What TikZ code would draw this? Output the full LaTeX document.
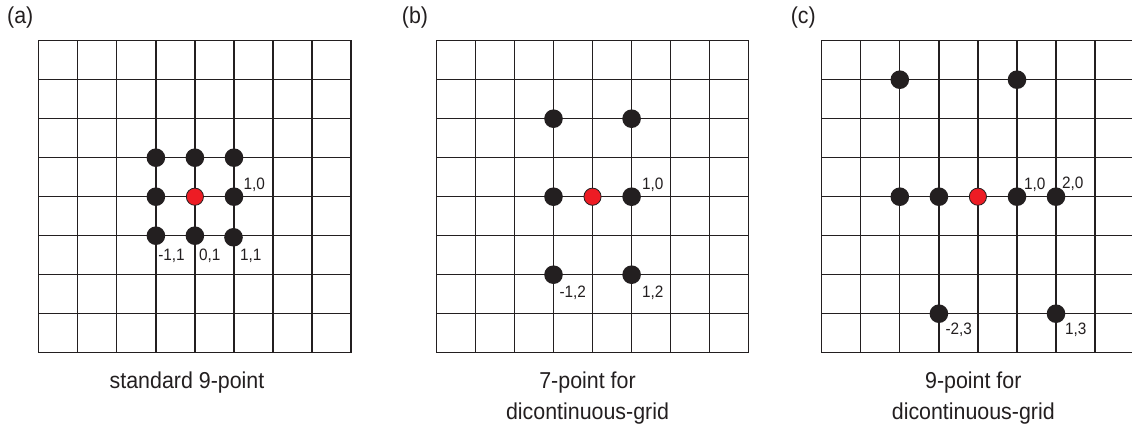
\documentclass[tikz,border=0pt]{standalone}
\usepackage{fontspec}
\setmainfont{Liberation Sans}[FakeStretch=0.93]
\definecolor{ink}{HTML}{231F20}
\definecolor{dotred}{HTML}{ED1C24}
\begin{document}
\begin{tikzpicture}[x=1pt,y=-1pt,
  gridline/.style={line width=1.3pt, draw=ink},
  bdot/.style={circle, fill=ink, inner sep=0pt, minimum size=18.6pt},
  rdot/.style={circle, fill=dotred, draw=ink, line width=0.8pt, inner sep=0pt, minimum size=17.2pt},
  lbl/.style={font=\fontsize{16.5}{18}\selectfont, text=ink, anchor=base, inner sep=0pt},
  panel/.style={font=\fontsize{23}{28}\selectfont, text=ink, anchor=base, inner sep=0pt},
  caption/.style={font=\fontsize{23}{28}\selectfont, text=ink, anchor=base, inner sep=0pt}]
\useasboundingbox (0,0) rectangle (1132,430);
\fill[white] (0,0) rectangle (1132,430);

% ---------- grid (a)
\foreach \i in {1,...,7} {
  \draw[gridline] ({38.7+\i*39.05},40.7) -- ({38.7+\i*39.05},352.7);
  \draw[gridline] (38.7,{40.7+\i*39}) -- (351.1,{40.7+\i*39});
}
\draw[gridline] (38.7,40.7) rectangle (351.1,352.7);

% ---------- grid (b)
\foreach \i in {1,...,7} {
  \draw[gridline] ({436.3+\i*39.05},40.7) -- ({436.3+\i*39.05},352.7);
  \draw[gridline] (436.3,{40.7+\i*39}) -- (748.7,{40.7+\i*39});
}
\draw[gridline] (436.3,40.7) rectangle (748.7,352.7);

% ---------- grid (c) (cut at right edge)
\foreach \i in {1,...,7} {
  \draw[gridline] ({821.7+\i*39.05},40.7) -- ({821.7+\i*39.05},352.7);
  \draw[gridline] (821.7,{40.7+\i*39}) -- (1132,{40.7+\i*39});
}
\draw[gridline] (1132,40.7) -- (821.7,40.7) -- (821.7,352.7) -- (1132,352.7);

% ---------- panel labels
\node[panel] (pa) at (20.3,24) {(a)};
\node[panel] (pb) at (415,24) {(b)};
\node[panel] (pc) at (803.3,24) {(c)};

% ---------- stencil (a)
\node[bdot] (a1) at (155.9,157.7) {};
\node[bdot] (a2) at (194.9,157.7) {};
\node[bdot] (a3) at (234.0,157.7) {};
\node[bdot] (a4) at (155.9,196.7) {};
\node[rdot] (a0) at (194.9,196.7) {};
\node[bdot] (a5) at (234.0,196.7) {};
\node[bdot] (a6) at (155.9,235.7) {};
\node[bdot] (a7) at (194.9,235.7) {};
\node[bdot] (a8) at (233.5,237.3) {};
\node[lbl] (la10) at (254.3,190) {1,0};
\node[lbl] (lam11) at (171.5,261) {-1,1};
\node[lbl] (la01) at (209.7,261) {0,1};
\node[lbl] (la11) at (250.8,261) {1,1};
\node[caption] (capa) at (187,388) {standard 9-point};

% ---------- stencil (b)
\node[bdot] (b1) at (553.5,118.7) {};
\node[bdot] (b2) at (631.6,118.7) {};
\node[bdot] (b3) at (553.5,196.7) {};
\node[rdot] (b0) at (592.5,196.7) {};
\node[bdot] (b4) at (631.6,196.7) {};
\node[bdot] (b5) at (553.5,274.7) {};
\node[bdot] (b6) at (631.6,274.7) {};
\node[lbl] (lb10) at (652.8,190) {1,0};
\node[lbl] (lbm12) at (572.8,297.7) {-1,2};
\node[lbl] (lb12) at (652.8,297.7) {1,2};
\node[caption] (capb1) at (587.5,388) {7-point for};
\node[caption] (capb2) at (587.5,419) {dicontinuous-grid};

% ---------- stencil (c)
\node[bdot] (c1) at (899.8,79.7) {};
\node[bdot] (c2) at (1017.0,79.7) {};
\node[bdot] (c3) at (899.8,196.7) {};
\node[bdot] (c4) at (938.9,196.7) {};
\node[rdot] (c0) at (977.9,196.7) {};
\node[bdot] (c5) at (1017.0,196.7) {};
\node[bdot] (c6) at (1056.0,196.7) {};
\node[bdot] (c7) at (938.9,313.7) {};
\node[bdot] (c8) at (1056.0,313.7) {};
\node[lbl] (lc10) at (1034.7,190) {1,0};
\node[lbl] (lc20) at (1072.8,189) {2,0};
\node[lbl] (lcm23) at (958.8,334.3) {-2,3};
\node[lbl] (lc13) at (1075.7,334.3) {1,3};
\node[caption] (capc1) at (973.3,388) {9-point for};
\node[caption] (capc2) at (973.3,419) {dicontinuous-grid};
\end{tikzpicture}
\end{document}
